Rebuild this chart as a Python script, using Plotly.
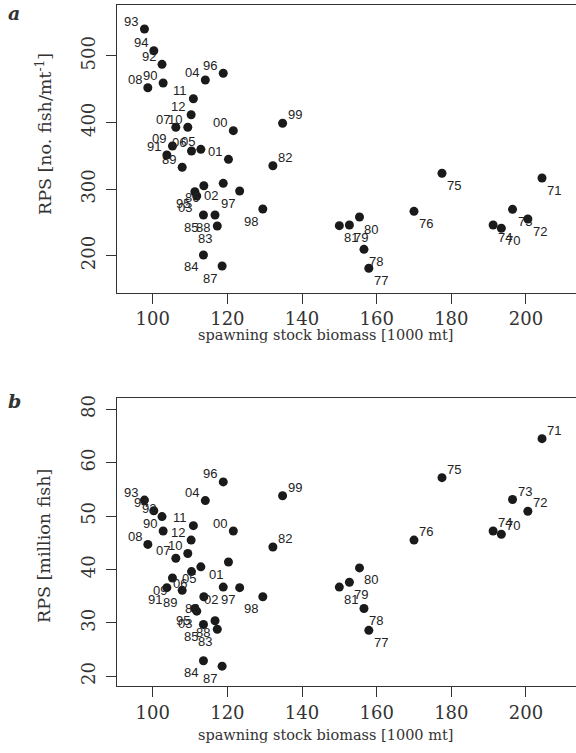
import plotly.graph_objects as go

# ---------------- data ----------------
years = ["70","71","72","73","74","75","76","77","78","79","80","81","82","83","84",
         "85","86","87","88","89","90","91","92","93","94","95","96","97","98","99",
         "00","01","02","03","04","05","06","07","08","09","10","11","12"]

ssb = [193.4, 204.3, 200.5, 196.4, 191.2, 177.5, 170.0, 157.9, 156.6, 152.7, 155.4, 150.0, 132.2, 117.3, 113.6,
       113.6, 113.7, 118.6, 116.7, 107.9, 102.8, 103.8, 102.5, 97.8, 100.3, 111.3, 118.9, 123.3, 129.5, 134.8,
       121.6, 120.3, 118.9, 111.8, 114.1, 112.9, 110.4, 106.2, 98.7, 105.3, 109.4, 110.9, 110.3]

rps_per_mt = [241.2, 316.7, 255.1, 269.7, 246.1, 323.8, 266.7, 181.1, 209.6, 246.1, 258.1, 245.1, 335.2, 244.6, 201.1,
              261.1, 305.1, 184.5, 261.1, 332.8, 459.4, 351.3, 487.5, 540.5, 507.9, 296.1, 474.0, 297.2, 270.1, 398.9,
              387.8, 344.8, 308.7, 289.7, 463.9, 359.8, 357.3, 392.9, 452.3, 364.8, 392.9, 435.8, 411.8]

rps_million = [46.6, 64.5, 50.9, 53.1, 47.2, 57.2, 45.5, 28.6, 32.7, 37.6, 40.3, 36.7, 44.2, 28.8, 22.9,
               29.7, 34.9, 21.9, 30.4, 36.1, 47.2, 36.6, 49.9, 53.0, 51.0, 32.7, 56.4, 36.6, 34.9, 53.8,
               47.2, 41.4, 36.7, 32.2, 52.9, 40.5, 39.6, 42.1, 44.7, 38.4, 43.0, 48.2, 45.5]

x_ticks = [100, 120, 140, 160, 180, 200]
ya_ticks = [200, 300, 400, 500]
yb_tickvals = [20, 30, 40, 50, 60, 70]
yb_ticktext = ["20", "30", "40", "50", "60", "80"]

x_title = "spawning stock biomass [1000 mt]"
ya_title = "RPS [no. fish/mt<sup>-1</sup>]"
yb_title = "RPS [million fish]"

# ---------------- label placement (style) ----------------
pos_a_special = {
    "99": "top right", "82": "top right",
    "98": "bottom left", "97": "bottom left", "02": "bottom left", "86": "bottom left",
    "95": "bottom left", "03": "bottom left", "85": "bottom left", "88": "bottom left",
    "83": "bottom left", "84": "bottom left", "87": "bottom left",
}
for y in ["70","71","72","73","74","75","76","77","78","79","80","81"]:
    pos_a_special[y] = "bottom right"
pos_a = [pos_a_special.get(y, "top left") for y in years]

pos_b_special = {}
for y in ["01","05","06","09","91","89","02","97","86","95","03","85","88","83","84","87","98"]:
    pos_b_special[y] = "bottom left"
for y in ["71","75","99","73","72","74","70","76","82"]:
    pos_b_special[y] = "top right"
for y in ["80","81","79","78","77"]:
    pos_b_special[y] = "bottom right"
pos_b = [pos_b_special.get(y, "top left") for y in years]

SHIFT = {
    "top left": (-13, 8), "top right": (12, 8.5),
    "bottom left": (-12, -12), "bottom right": (12, -12),
}

serif = "DejaVu Serif"
sans = "Liberation Sans, Arial, sans-serif"
axcol = "#333333"
dotcol = "#1a1a1a"

fig = go.Figure()
fig.add_trace(go.Scatter(x=ssb, y=rps_per_mt, mode="markers",
                         marker=dict(size=9, color=dotcol),
                         xaxis="x", yaxis="y", showlegend=False, cliponaxis=False))
fig.add_trace(go.Scatter(x=ssb, y=rps_million, mode="markers",
                         marker=dict(size=9, color=dotcol),
                         xaxis="x2", yaxis="y2", showlegend=False, cliponaxis=False))

annotations = []
for xs, ys, poss, xr, yr in [(ssb, rps_per_mt, pos_a, "x", "y"), (ssb, rps_million, pos_b, "x2", "y2")]:
    for lab, xv, yv, p in zip(years, xs, ys, poss):
        dx, dy = SHIFT[p]
        annotations.append(dict(text=lab, x=xv, y=yv, xref=xr, yref=yr, showarrow=False,
                                xanchor="center", yanchor="middle", xshift=dx, yshift=dy,
                                font=dict(family=sans, size=13, color="#222")))

xcommon = dict(range=[90.44, 213.4], tickvals=x_ticks, ticks="outside", ticklen=10,
               tickwidth=1.3, tickcolor=axcol, showline=True, linecolor=axcol, linewidth=1.3,
               mirror=True, showgrid=False, zeroline=False,
               tickfont=dict(family=serif, size=18, color=axcol))
ycommon = dict(ticks="outside", ticklen=10, tickwidth=1.3, tickcolor=axcol, showline=True,
               linecolor=axcol, linewidth=1.3, showgrid=False, zeroline=False, tickangle=-90,
               ticklabelstandoff=4,
               tickfont=dict(family=serif, size=18, color=axcol))

fig.update_layout(
    width=576, height=753,
    margin=dict(l=117, r=0, t=5, b=67),
    paper_bgcolor="white", plot_bgcolor="white",
    xaxis=dict(domain=[0, 1], anchor="y", **xcommon),
    yaxis=dict(domain=[0.5775, 1], anchor="x", range=[144.4, 576.6], tickvals=ya_ticks, **ycommon),
    xaxis2=dict(domain=[0, 1], anchor="y2", **xcommon),
    yaxis2=dict(domain=[0, 0.4225], anchor="x2", range=[18.18, 72.06], tickvals=yb_tickvals,
                ticktext=yb_ticktext, **ycommon),
)

# pixel-positioned titles / panel letters (converted to paper coords)
plot_w = 576 - 117
plot_h = 753 - 5 - 67
def px2paper(px, py):
    return (px - 117) / plot_w, ((753 - py) - 67) / plot_h

extra = [
    ("<b><i>a</i></b>", 14, 13, 0, 19),
    ("<b><i>b</i></b>", 14, 401, 0, 19),
    (ya_title, 44, 134, -90, 17.5),
    (yb_title, 44, 546, -90, 17.5),
    (x_title, 325, 335, 0, 14.5),
    (x_title, 325, 735, 0, 14.5),
]
for txt, px, py, ang, sz in extra:
    ax, ay = px2paper(px, py)
    annotations.append(dict(text=txt, x=ax, y=ay, xref="paper", yref="paper", showarrow=False,
                            textangle=ang, xanchor="center", yanchor="middle",
                            font=dict(family=serif, size=sz, color=axcol)))

fig.update_layout(annotations=annotations)
fig.write_html("out.html")
